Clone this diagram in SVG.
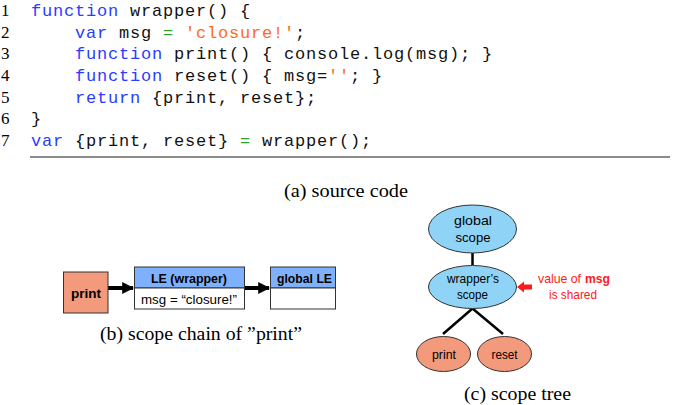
<svg xmlns="http://www.w3.org/2000/svg" width="685" height="405" viewBox="0 0 685 405">
<style>
.ln{font-family:"Liberation Serif",serif;font-size:17px;fill:#000}
.code{font-family:"Liberation Mono",monospace;font-size:17px;letter-spacing:0.8px;fill:#111;white-space:pre}
.kw{fill:#2a3cff}
.op{fill:#2ea02e}
.str{fill:#ff6a1a}
.cap{font-family:"Liberation Serif",serif;font-size:18px;fill:#000}
.lbl{font-family:"Liberation Sans","Noto Sans",sans-serif;font-size:13.5px;fill:#000}
.b{font-weight:bold}
.box{stroke:#333;stroke-width:1}
.red{fill:#ff1a1a}
</style>
<defs>
<marker id="ah" viewBox="0 0 10 10" refX="9" refY="5" markerWidth="3" markerHeight="3" orient="auto" markerUnits="strokeWidth">
<path d="M0,0 L10,5 L0,10 z" fill="#000"/>
</marker>
</defs>

<g id="code">
<text class="ln" x="1" y="16">1</text>
<text class="ln" x="1" y="38">2</text>
<text class="ln" x="1" y="59">3</text>
<text class="ln" x="1" y="81">4</text>
<text class="ln" x="1" y="103">5</text>
<text class="ln" x="1" y="124">6</text>
<text class="ln" x="1" y="146">7</text>
<text class="code" x="31" y="16"><tspan class="kw">function</tspan> wrapper() {</text>
<text class="code" x="75" y="38"><tspan class="kw">var</tspan> msg <tspan class="op">=</tspan> <tspan class="str">'closure!'</tspan>;</text>
<text class="code" x="75" y="59"><tspan class="kw">function</tspan> print() { console.log(msg); }</text>
<text class="code" x="75" y="81"><tspan class="kw">function</tspan> reset() { msg=<tspan class="str">''</tspan>; }</text>
<text class="code" x="75" y="103"><tspan class="kw">return</tspan> {print, reset};</text>
<text class="code" x="31" y="124">}</text>
<text class="code" x="31" y="146"><tspan class="kw">var</tspan> {print, reset} <tspan class="op">=</tspan> wrapper();</text>
<line x1="30" y1="157" x2="670" y2="157" stroke="#666" stroke-width="1.5"/>
<text class="cap" x="284" y="197" textLength="124" lengthAdjust="spacingAndGlyphs">(a) source code</text>
</g>

<g id="connectors">
<line x1="108" y1="288" x2="133" y2="288" stroke="#000" stroke-width="4" marker-end="url(#ah)"/>
<line x1="244" y1="288" x2="269" y2="288" stroke="#000" stroke-width="4" marker-end="url(#ah)"/>
<line x1="472.5" y1="253" x2="472.5" y2="265" stroke="#000" stroke-width="2.5"/>
<line x1="472.5" y1="308.5" x2="443" y2="334" stroke="#000" stroke-width="2.5"/>
<line x1="472.5" y1="308.5" x2="503" y2="334" stroke="#000" stroke-width="2.5"/>
</g>

<g id="print-box">
<rect class="box" x="63.5" y="272" width="44.5" height="41" fill="#f29a7b"/>
<text class="lbl b" x="71" y="298" font-size="15.5" textLength="30" lengthAdjust="spacingAndGlyphs">print</text>
</g>

<g id="le-wrapper">
<rect class="box" x="134.5" y="267" width="110" height="21" fill="#7fb0fb"/>
<rect class="box" x="134.5" y="288" width="110" height="21" fill="#fff"/>
<text class="lbl b" x="151" y="283" font-size="14.5" textLength="76" lengthAdjust="spacingAndGlyphs">LE (wrapper)</text>
<text class="lbl" x="141" y="303.5" font-size="14.5" textLength="96" lengthAdjust="spacingAndGlyphs">msg = “closure!”</text>
</g>

<g id="global-le">
<rect class="box" x="270.5" y="267" width="65" height="21" fill="#7fb0fb"/>
<rect class="box" x="270.5" y="288" width="65" height="21" fill="#fff"/>
<text class="lbl b" x="277" y="283" font-size="14.5" textLength="55" lengthAdjust="spacingAndGlyphs">global LE</text>
</g>

<text class="cap" x="100" y="340" textLength="202" lengthAdjust="spacingAndGlyphs">(b) scope chain of ”print”</text>

<g id="global-scope">
<ellipse class="box" cx="472.5" cy="229" rx="44" ry="24" fill="#8fd4f6"/>
<text class="lbl" x="454" y="225" font-size="14.5" textLength="38" lengthAdjust="spacingAndGlyphs">global</text>
<text class="lbl" x="455.5" y="242" font-size="14.5" textLength="35" lengthAdjust="spacingAndGlyphs">scope</text>
</g>

<g id="wrapper-scope">
<ellipse class="box" cx="472.5" cy="287" rx="44" ry="21.5" fill="#8fd4f6"/>
<text class="lbl" x="447" y="283" font-size="13" textLength="52" lengthAdjust="spacingAndGlyphs">wrapper’s</text>
<text class="lbl" x="457" y="298.5" font-size="13" textLength="31" lengthAdjust="spacingAndGlyphs">scope</text>
</g>

<g id="print-node">
<ellipse class="box" cx="443.5" cy="354" rx="27" ry="17.5" fill="#f29a7b"/>
<text class="lbl" x="432" y="358.5" font-size="14" textLength="24" lengthAdjust="spacingAndGlyphs">print</text>
</g>

<g id="reset-node">
<ellipse class="box" cx="504.5" cy="354" rx="27" ry="17.5" fill="#f29a7b"/>
<text class="lbl" x="491.5" y="358.5" font-size="14" textLength="26" lengthAdjust="spacingAndGlyphs">reset</text>
</g>

<g id="shared-note">
<path class="red" d="M517,287 L524,281.5 L524,284.5 L532,284.5 L532,289.5 L524,289.5 L524,292.5 z"/>
<text class="lbl red" x="538" y="283" font-size="13" textLength="43" lengthAdjust="spacingAndGlyphs">value of</text>
<text class="lbl red b" x="585" y="283" font-size="13" textLength="25" lengthAdjust="spacingAndGlyphs">msg</text>
<text class="lbl red" x="549" y="298.5" font-size="13" textLength="48" lengthAdjust="spacingAndGlyphs">is shared</text>
</g>

<text class="cap" x="464" y="400" textLength="107" lengthAdjust="spacingAndGlyphs">(c) scope tree</text>
</svg>
